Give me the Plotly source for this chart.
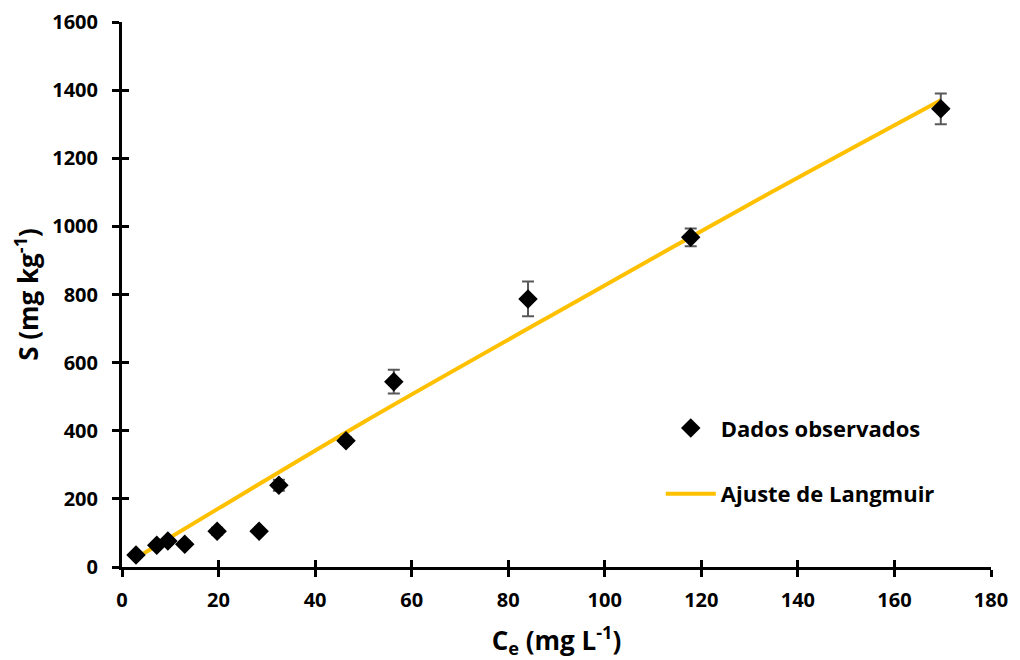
import plotly.graph_objects as go

ce_obs = [2.9, 7.2, 9.5, 13.0, 19.7, 28.4, 32.5, 46.4, 56.3, 84.1, 117.8, 169.6]
s_obs = [35, 64, 76, 67, 105, 105, 240, 371, 544, 787, 968, 1345]
s_err = [5, 8, 8, 8, 10, 6, 16, 10, 35, 51, 26, 45]

# Langmuir fit curve
ce_fit = [3, 20, 50, 95, 130, 169.6]
s_fit = [27, 172, 425, 787, 1065, 1370]

x_ticks = list(range(0, 181, 20))
y_ticks = list(range(0, 1601, 200))

FONT = "Open Sans"

fig = go.Figure()
fig.add_trace(go.Scatter(
    x=ce_fit, y=s_fit, mode="lines", name="<b>Ajuste de Langmuir</b>",
    line=dict(color="#FFC000", width=4, shape="spline"),
    legendgroup="b", legendrank=2,
))
fig.add_trace(go.Scatter(
    x=ce_obs, y=s_obs, mode="markers", name="<b>Dados observados</b>",
    marker=dict(symbol="diamond", size=15, color="black"),
    error_y=dict(type="data", array=s_err, visible=True, color="#595959", thickness=2, width=6),
    legendgroup="a", legendrank=1,
))

axis_common = dict(showgrid=False, zeroline=False, showline=True, linecolor="black",
                   linewidth=3, ticks="outside", tickwidth=3, tickcolor="black", ticklen=7,
                   automargin=False, ticklabeloverflow="allow")

fig.update_layout(
    width=1004, height=652, autosize=False,
    margin=dict(l=114, r=21, t=14, b=93, autoexpand=False),
    paper_bgcolor="white", plot_bgcolor="white",
    font=dict(family=FONT, color="black"),
    xaxis=dict(range=[0, 180], tickvals=x_ticks, ticktext=[f"<b>{v}</b>" for v in x_ticks],
               **axis_common, ticklabelstandoff=6,
               tickfont=dict(size=20, family=FONT),
               title=dict(text="<b>C<sub>e</sub> (mg L<sup>-1</sup>)</b>",
                          font=dict(size=26, family=FONT), standoff=20)),
    yaxis=dict(range=[0, 1600], tickvals=y_ticks, ticktext=[f"<b>{v}</b>" for v in y_ticks],
               **axis_common, ticklabelstandoff=10,
               tickfont=dict(size=20, family=FONT),
               title=dict(text="<b>S (mg kg<sup>-1</sup>)</b>",
                          font=dict(size=26, family=FONT), standoff=12)),
    xaxis2=dict(range=[0, 180], tickvals=x_ticks, overlaying="x", side="bottom", anchor="y",
                showgrid=False, zeroline=False, showline=False, ticks="inside", ticklen=7,
                tickwidth=3, tickcolor="black", showticklabels=False, automargin=False),
    yaxis2=dict(range=[0, 1600], tickvals=y_ticks, overlaying="y", side="left", anchor="x",
                showgrid=False, zeroline=False, showline=False, ticks="inside", ticklen=7,
                tickwidth=3, tickcolor="black", showticklabels=False, automargin=False),
    legend=dict(x=0.62, y=0.194, xanchor="left", yanchor="middle",
                traceorder="grouped", tracegroupgap=34, itemwidth=50,
                font=dict(size=22, family=FONT),
                bgcolor="rgba(0,0,0,0)"),
    showlegend=True,
)
# invisible trace to make the secondary axes render
fig.add_trace(go.Scatter(x=[None], y=[None], xaxis="x2", yaxis="y2", showlegend=False, hoverinfo="skip"))

fig.write_html("out.html")
